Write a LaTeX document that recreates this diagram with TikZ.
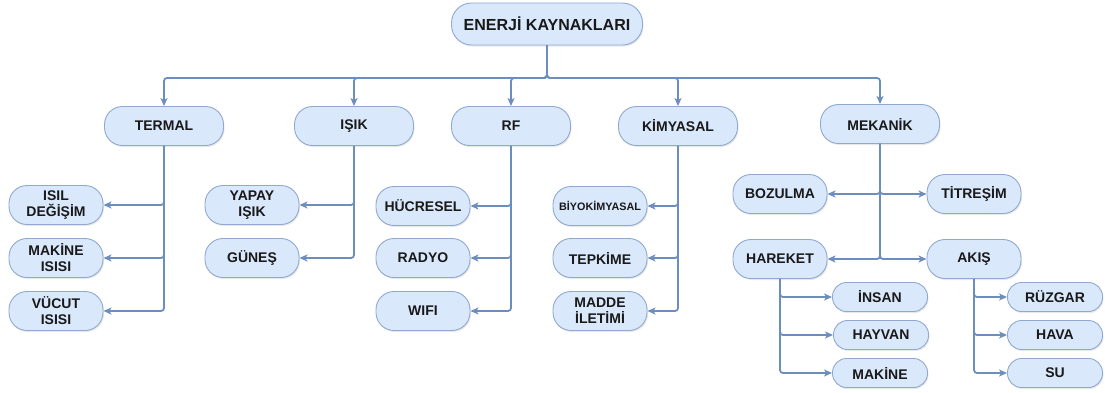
\documentclass[tikz,border=0pt]{standalone}
\usepackage{fontspec}
\setmainfont{Liberation Sans}
\usetikzlibrary{arrows.meta,shadows}
\definecolor{boxfill}{HTML}{DAE8FC}
\definecolor{boxline}{HTML}{8FA9D0}
\definecolor{linkblue}{HTML}{6C8EBF}

\tikzset{
  box/.style={draw=boxline, fill=boxfill, line width=0.9pt, rounded corners=18pt,
    minimum width=94pt, minimum height=39pt, inner sep=0pt, align=center,
    font=\fontsize{14}{16}\selectfont\bfseries, text=black!90,
    drop shadow={opacity=0.18, shadow xshift=1pt, shadow yshift=-1.5pt}},
  topbox/.style={box, minimum width=119pt},
  smallbox/.style={box, minimum width=95pt, minimum height=29pt, rounded corners=14pt},
  rootbox/.style={box, minimum width=191pt, minimum height=42pt, rounded corners=20pt,
    font=\fontsize{16}{19}\selectfont\bfseries},
  link/.style={draw=linkblue, line width=1.8pt, rounded corners=3pt,
    -{Stealth[length=8pt,width=7pt,inset=2pt]}}
}

\begin{document}
\begin{tikzpicture}[x=1pt,y=1pt]
\useasboundingbox (0,0) rectangle (1105,-392);

% root
\node[rootbox] (root) at (547,-24) {ENERJİ KAYNAKLARI};

% main categories
\node[topbox] (termal) at (164,-126) {TERMAL};
\node[topbox] (isik)   at (354,-126) {IŞIK};
\node[topbox] (rf)     at (511,-126) {RF};
\node[topbox] (kimya)  at (678,-126) {KİMYASAL};
\node[topbox] (mekan)  at (880,-124) {MEKANİK};

% thermal
\node[box] (isil)    at (56,-205) {ISIL\\DEĞİŞİM};
\node[box] (makisi)  at (56,-258) {MAKİNE\\ISISI};
\node[box] (vucut)   at (56,-311) {VÜCUT\\ISISI};

% light
\node[box] (yapay)   at (252,-205) {YAPAY\\IŞIK};
\node[box] (gunes)   at (252,-258) {GÜNEŞ};

% radio frequency
\node[box] (hucre)   at (423,-206) {HÜCRESEL};
\node[box] (radyo)   at (423,-258) {RADYO};
\node[box] (wifi)    at (423,-311) {WIFI};

% chemical
\node[box, font=\fontsize{10.8}{13}\selectfont\bfseries] (biyo) at (600,-206) {BİYOKİMYASAL};
\node[box] (tepki)   at (600,-258) {TEPKİME};
\node[box] (madde)   at (600,-311) {MADDE\\İLETİMİ};

% mechanical
\node[box] (bozul)   at (780,-194) {BOZULMA};
\node[box] (titre)   at (974,-194) {TİTREŞİM};
\node[box] (hareket) at (780,-259) {HAREKET};
\node[box] (akis)    at (974,-259) {AKIŞ};

\node[smallbox] (insan)  at (880,-297) {İNSAN};
\node[smallbox] (hayvan) at (881,-335) {HAYVAN};
\node[smallbox] (makine) at (880,-373) {MAKİNE};

\node[smallbox] (ruzgar) at (1055,-297) {RÜZGAR};
\node[smallbox] (hava)   at (1055,-335) {HAVA};
\node[smallbox] (su)     at (1055,-373) {SU};

% root to categories
\coordinate (bus) at (547,-78);
\foreach \c in {termal,isik,rf,kimya,mekan}
  \draw[link] (root) -- (root |- bus) -| (\c);

% categories to sources
\foreach \c in {isil,makisi,vucut} \draw[link] (termal) |- (\c);
\foreach \c in {yapay,gunes} \draw[link] (isik) |- (\c);
\foreach \c in {hucre,radyo,wifi} \draw[link] (rf) |- (\c);
\foreach \c in {biyo,tepki,madde} \draw[link] (kimya) |- (\c);
\foreach \c in {bozul,titre,hareket,akis} \draw[link] (mekan) |- (\c);
\foreach \c in {insan,hayvan,makine} \draw[link] (hareket) |- (\c);
\foreach \c in {ruzgar,hava,su} \draw[link] (akis) |- (\c);
\end{tikzpicture}
\end{document}
